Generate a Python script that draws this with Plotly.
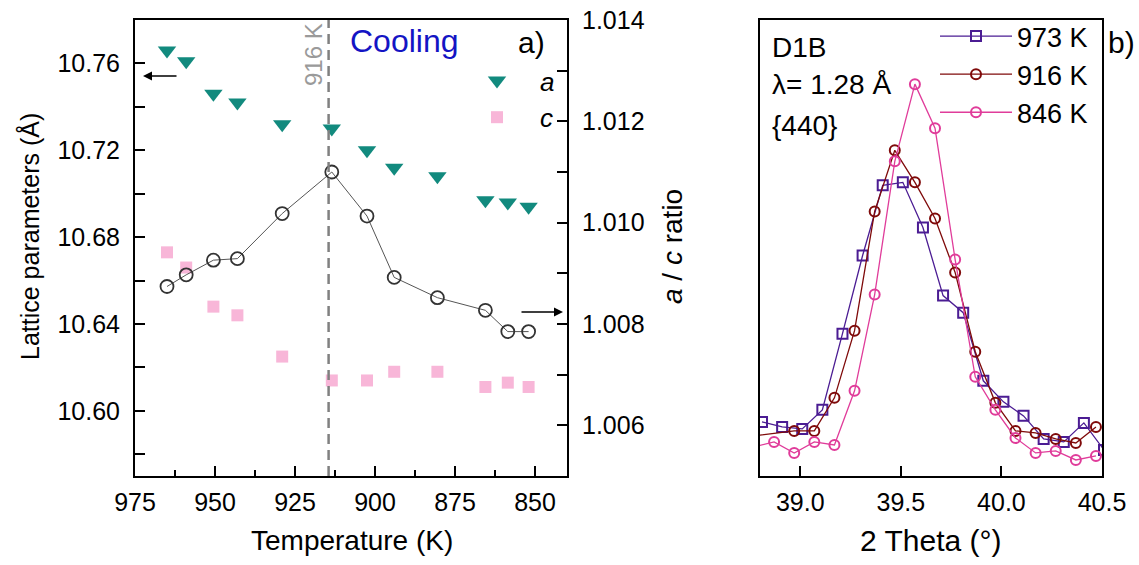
import plotly.graph_objects as go

# ---------------- data: panel a) ----------------
temperature = [965, 959, 950.5, 943, 929, 913.5, 902.5, 894, 880.5, 865.5, 858.5, 852]
lattice_a = [10.766, 10.761, 10.746, 10.742, 10.732, 10.730, 10.720, 10.712, 10.708, 10.697, 10.696, 10.694]
lattice_c = [10.673, 10.666, 10.648, 10.644, 10.625, 10.614, 10.614, 10.618, 10.618, 10.611, 10.613, 10.611]
ratio_ac = [1.00874, 1.00897, 1.00926, 1.00929, 1.01018, 1.01100, 1.01013, 1.00892, 1.00852, 1.00827, 1.00785, 1.00785]
transition_T = 914.5
temp_ticks = [975, 950, 925, 900, 875, 850]

# ---------------- data: panel b) ----------------
theta_973 = [38.81, 38.91, 39.01, 39.11, 39.21, 39.31, 39.41, 39.51, 39.61, 39.71, 39.81, 39.91, 40.01, 40.11, 40.21, 40.31, 40.41, 40.51]
inten_973 = [54, 49, 47, 66, 142, 220, 290, 293, 248, 180, 163, 95, 74, 60, 37, 34, 53, 26]
theta_916 = [38.77, 38.97, 39.07, 39.17, 39.27, 39.37, 39.47, 39.57, 39.67, 39.77, 39.87, 39.97, 40.07, 40.17, 40.27, 40.37, 40.47]
inten_916 = [40, 45, 45, 78, 145, 264, 325, 293, 257, 203, 124, 73, 45, 43, 37, 33, 49]
theta_846 = [38.77, 38.87, 38.97, 39.07, 39.17, 39.27, 39.37, 39.47, 39.57, 39.67, 39.77, 39.87, 39.97, 40.07, 40.17, 40.27, 40.37, 40.47]
inten_846 = [29, 34, 23, 34, 31, 85, 181, 314, 391, 347, 216, 99, 66, 38, 23, 25, 16, 20]

W, H = 1139, 565
FONT = "Liberation Sans, Arial, sans-serif"


def px_x(p):
    return p / W


def px_y(p):
    return (H - p) / H


dom_x1 = [px_x(135), px_x(567)]
dom_x2 = [px_x(760), px_x(1102)]
dom_y = [px_y(476), px_y(20)]

fig = go.Figure()

fig.add_trace(go.Scatter(
    x=temperature, y=lattice_a, mode="markers", name="<i>a</i>",
    marker=dict(symbol="triangle-down", size=16, color="#128a7e"),
    xaxis="x", yaxis="y", legend="legend"))
fig.add_trace(go.Scatter(
    x=temperature, y=lattice_c, mode="markers", name="<i>c</i>",
    marker=dict(symbol="square", size=12, color="#f8b6d8"),
    xaxis="x", yaxis="y", legend="legend"))
fig.add_trace(go.Scatter(
    x=temperature, y=ratio_ac, mode="lines+markers", name="a/c",
    line=dict(color="#555555", width=1),
    marker=dict(symbol="circle-open", size=13, color="#333333", line=dict(width=1.8)),
    xaxis="x", yaxis="y2", showlegend=False))

for th, it, nm, col, sym in [
    (theta_973, inten_973, "973 K", "#4b1c93", "square-open"),
    (theta_916, inten_916, "916 K", "#7f0a0a", "circle-open"),
    (theta_846, inten_846, "846 K", "#e03c9a", "circle-open"),
]:
    fig.add_trace(go.Scatter(
        x=th, y=it, mode="lines+markers", name=nm,
        line=dict(color=col, width=1.3),
        marker=dict(symbol=sym, size=10, color=col, line=dict(width=2, color=col)),
        xaxis="x2", yaxis="y3", legend="legend2"))

axis_common = dict(showgrid=False, zeroline=False, showline=True, linecolor="black",
                   linewidth=2, mirror=True, tickfont=dict(family=FONT, size=25, color="black"),
                   ticks="inside", tickcolor="black", tickwidth=1.5, ticklen=10,
                   automargin=False)

fig.update_layout(
    width=W, height=H,
    margin=dict(l=0, r=0, t=0, b=0),
    paper_bgcolor="white", plot_bgcolor="rgba(0,0,0,0)",
    font=dict(family=FONT, color="black"),
    xaxis=dict(axis_common, domain=dom_x1, range=[975, 840], tickvals=temp_ticks,
               minor=dict(ticks="inside", ticklen=6, tickcolor="black", tickwidth=1.5,
                          tickvals=[962.5, 937.5, 912.5, 887.5, 862.5]),
               anchor="y", ticklabelstandoff=3),
    yaxis=dict(axis_common, domain=dom_y, range=[10.57, 10.78], tick0=10.60, dtick=0.04,
               tickformat=".2f", minor=dict(ticks="inside", ticklen=10, tickcolor="black",
                                            tickwidth=1.5, dtick=0.02, tick0=10.60),
               anchor="x", ticklabelstandoff=8),
    yaxis2=dict(axis_common, overlaying="y", side="right", range=[1.005, 1.014], tick0=1.006,
                dtick=0.002, tickformat=".3f",
                minor=dict(ticks="inside", ticklen=10, tickcolor="black", tickwidth=1.5,
                           dtick=0.001, tick0=1.006),
                anchor="x", ticklabelstandoff=8),
    xaxis2=dict(axis_common, domain=dom_x2, range=[38.8, 40.5], tick0=39.0, dtick=0.5,
                tickformat=".1f", anchor="y3", ticklabelstandoff=3),
    yaxis3=dict(axis_common, domain=dom_y, range=[0, 455], showticklabels=False,
                ticks="", anchor="x2"),
    legend=dict(x=px_x(454), y=px_y(57), xanchor="left", yanchor="top",
                bgcolor="rgba(0,0,0,0)", font=dict(family=FONT, size=26, color="black"),
                itemwidth=76, tracegroupgap=0),
    legend2=dict(x=px_x(935), y=px_y(12), xanchor="left", yanchor="top",
                 bgcolor="rgba(0,0,0,0)", font=dict(family=FONT, size=27, color="black"),
                 itemwidth=72, tracegroupgap=0),
)

# dashed transition line
fig.add_shape(type="line", xref="x", yref="y domain", x0=transition_T, x1=transition_T,
              y0=0, y1=1, line=dict(color="#808080", width=2.5, dash="10px,6px"))


def label(xp, yp, text, size, color="black", angle=0, xanchor="center"):
    return dict(x=px_x(xp), y=px_y(yp), xref="paper", yref="paper", text=text,
                textangle=angle, showarrow=False, xanchor=xanchor, yanchor="middle",
                font=dict(family=FONT, size=size, color=color))


ann = [
    label(313, 55, "916 K", 24, "#9a9a9a", angle=-90),
    label(404, 41, "Cooling", 32, "#1414c4"),
    label(531, 43, "a)", 30),
    label(1121, 43, "b)", 30),
    label(770, 47, "D1B", 28, xanchor="left"),
    label(770, 84, "λ= 1.28 Å", 28, xanchor="left"),
    label(770, 126, "{440}", 28, xanchor="left"),
    label(352, 540, "Temperature (K)", 28),
    label(931, 540, "2 Theta (°)", 30),
    label(29, 237, "Lattice parameters (Å)", 25, angle=-90),
    label(672, 247, "<i>a</i> / <i>c</i> ratio", 28, angle=-90),
]
# arrows
ann.append(dict(x=px_x(143), y=px_y(76), xref="paper", yref="paper", text="",
                showarrow=True, ax=35, ay=0, arrowhead=2, arrowsize=1.2, arrowwidth=1.5,
                arrowcolor="black"))
ann.append(dict(x=px_x(563), y=px_y(312), xref="paper", yref="paper", text="",
                showarrow=True, ax=-43, ay=0, arrowhead=2, arrowsize=1.2, arrowwidth=1.5,
                arrowcolor="black"))
fig.update_layout(annotations=ann)

fig.write_html("out.html", config={"displayModeBar": False},
               post_script="document.body.style.margin='0px';")
